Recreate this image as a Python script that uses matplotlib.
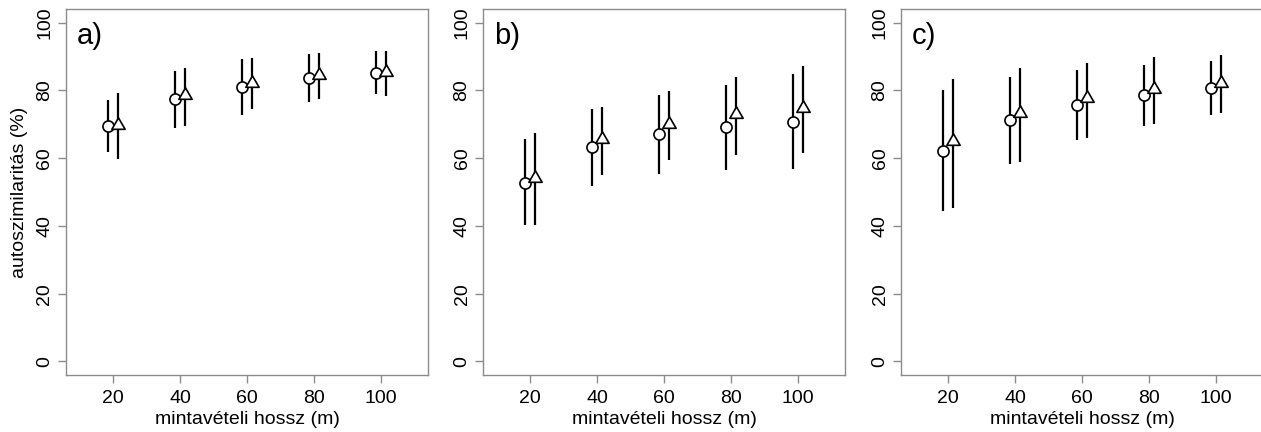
import matplotlib
matplotlib.use("Agg")
import matplotlib.pyplot as plt
import numpy as np
from matplotlib.path import Path

plt.rcParams['font.family'] = ['Liberation Sans', 'DejaVu Sans']

# Sampling lengths (m)
lengths = [20, 40, 60, 80, 100]
x_ticks = [20, 40, 60, 80, 100]
y_ticks = [0, 20, 40, 60, 80, 100]
panel_labels = ['a)', 'b)', 'c)']

# Series 1 (circles): mean, lower, upper
circ_mean = [
    [69.6, 77.3, 81.0, 83.6, 85.2],
    [52.8, 63.2, 67.0, 69.3, 70.8],
    [62.2, 71.1, 75.7, 78.6, 80.7],
]
circ_low = [
    [61.7, 68.9, 72.8, 76.6, 78.9],
    [40.2, 51.7, 55.2, 56.6, 56.8],
    [44.4, 58.4, 65.4, 69.4, 72.8],
]
circ_high = [
    [77.1, 85.7, 89.1, 90.6, 91.5],
    [65.5, 74.6, 78.7, 81.7, 84.8],
    [80.1, 83.8, 86.0, 87.6, 88.6],
]

# Series 2 (triangles): mean, lower, upper
tri_mean = [
    [69.8, 78.6, 82.3, 84.5, 85.4],
    [54.1, 65.5, 70.1, 73.1, 74.9],
    [65.0, 73.4, 77.6, 80.5, 82.2],
]
tri_low = [
    [59.6, 69.6, 74.5, 77.3, 78.4],
    [40.2, 55.0, 59.3, 60.9, 61.5],
    [45.3, 59.0, 66.0, 70.0, 73.4],
]
tri_high = [
    [79.1, 86.6, 89.4, 90.9, 91.7],
    [67.5, 75.0, 79.8, 83.8, 87.1],
    [83.4, 86.5, 88.2, 89.7, 90.5],
]

x_label = 'mintavételi hossz (m)'
y_label = 'autoszimilaritás (%)'

# equilateral triangle marker
s3 = np.sqrt(3)
tri_marker = Path([(-1, -1 / s3), (1, -1 / s3), (0, 2 / s3), (-1, -1 / s3)],
                  [Path.MOVETO, Path.LINETO, Path.LINETO, Path.CLOSEPOLY])

fig = plt.figure(figsize=(12.61, 4.32), dpi=100)
W, H = 1261, 432
lefts = [66, 483, 901]
ax_w, top, bottom = 362, 9, 375

spine_col = '#8c8c8c'
off = 1.5

for i in range(3):
    ax = fig.add_axes([lefts[i] / W, 1 - bottom / H, ax_w / W, (bottom - top) / H])
    x = np.array(lengths, dtype=float)

    cm, cl, ch = map(np.array, (circ_mean[i], circ_low[i], circ_high[i]))
    tm, tl, th = map(np.array, (tri_mean[i], tri_low[i], tri_high[i]))

    ax.vlines(x - off, cl, ch, color='black', lw=1.6, zorder=2)
    ax.vlines(x + off, tl, th, color='black', lw=1.6, zorder=2)
    ax.plot(x - off, cm, linestyle='none', marker='o', ms=8, mfc='white',
            mec='black', mew=1.2, zorder=3)
    ax.plot(x + off, tm, linestyle='none', marker=tri_marker, ms=11, mfc='white',
            mec='black', mew=1.2, zorder=3)

    ax.set_xlim(6, 114)
    ax.set_ylim(-4, 104)
    ax.set_xticks(x_ticks)
    ax.set_yticks(y_ticks)
    ax.set_xticklabels([str(v) for v in x_ticks], fontsize=14)
    ax.set_yticklabels([str(v) for v in y_ticks], fontsize=14, rotation=90,
                       va='center')
    ax.tick_params(axis='both', length=6, width=1, color=spine_col)
    ax.tick_params(axis='x', pad=5)
    ax.tick_params(axis='y', pad=3)
    for sp in ax.spines.values():
        sp.set_color(spine_col)
        sp.set_linewidth(1.0)

    ax.set_xlabel(x_label, fontsize=14, labelpad=3)
    if i == 0:
        ax.set_ylabel(y_label, fontsize=14, labelpad=6)

    ax.text(0.03, 0.965, panel_labels[i], transform=ax.transAxes,
            fontsize=21, ha='left', va='top')

fig.savefig('out.png', dpi=100)
